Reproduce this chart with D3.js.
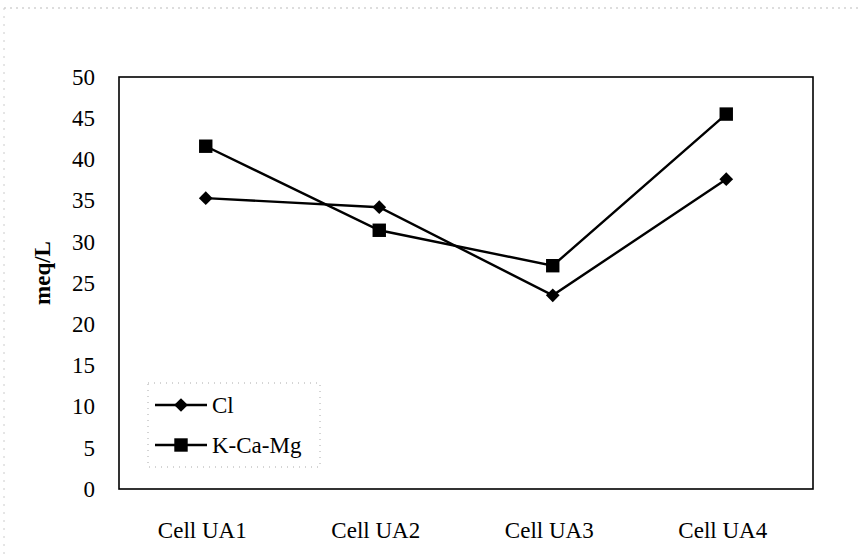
<!DOCTYPE html>
<html>
<head>
<meta charset="utf-8">
<script src="https://cdn.jsdelivr.net/npm/d3@7"></script>
<style>
  body { margin: 0; background: #fff; }
  svg { display: block; }
</style>
</head>
<body>
<div id="chart"></div>
<script>
const categories = ["Cell UA1", "Cell UA2", "Cell UA3", "Cell UA4"];
const clValues = [35.3, 34.2, 23.5, 37.6];
const kcamgValues = [41.6, 31.4, 27.1, 45.5];
const yTicks = [0, 5, 10, 15, 20, 25, 30, 35, 40, 45, 50];

const width = 858;
const height = 554;
const margin = { top: 77, right: 45, bottom: 65, left: 119 };
const innerWidth = width - margin.left - margin.right;
const innerHeight = height - margin.top - margin.bottom;
const font = "'Liberation Serif', 'Times New Roman', serif";

const svg = d3.select("#chart")
	.append("svg")
	.attr("width", width)
	.attr("height", height);

// faint scan border round the page
svg.append("line")
	.attr("x1", 4).attr("x2", width).attr("y1", 8).attr("y2", 8)
	.style("stroke", "#bbb").style("stroke-dasharray", "2,4");
svg.append("line")
	.attr("x1", 4).attr("x2", 4).attr("y1", 8).attr("y2", height)
	.style("stroke", "#ccc").style("stroke-dasharray", "2,6");

const g = svg.append("g")
	.attr("transform", `translate(${margin.left},${margin.top})`);

const xScale = d3.scalePoint()
	.domain(categories)
	.range([0, innerWidth])
	.padding(0.5);

const yScale = d3.scaleLinear([0, 50], [innerHeight, 0]);

// plot box
g.append("rect")
	.attr("width", innerWidth)
	.attr("height", innerHeight)
	.style("fill", "none")
	.style("stroke", "#000")
	.style("stroke-width", 1.6);

// y axis
const yAxis = d3.axisLeft(yScale).tickValues(yTicks).tickSize(0).tickPadding(24);
const yAxisGroup = g.append("g").call(yAxis);
yAxisGroup.select(".domain").remove();
yAxisGroup.selectAll("text")
	.style("font-family", font)
	.style("font-size", "23px")
	.style("fill", "#000");

// x axis
const xAxis = d3.axisBottom(xScale).tickSize(0).tickPadding(33);
const xAxisGroup = g.append("g").attr("transform", `translate(0,${innerHeight})`).call(xAxis);
xAxisGroup.select(".domain").remove();
xAxisGroup.selectAll("text")
	.attr("dx", "-4px")
	.style("font-family", font)
	.style("font-size", "23px")
	.style("fill", "#000");

// y label
g.append("text")
	.attr("transform", "rotate(-90)")
	.attr("x", -innerHeight / 2 + 10)
	.attr("y", -69)
	.attr("text-anchor", "middle")
	.style("font-family", font)
	.style("font-weight", "700")
	.style("font-size", "23px")
	.text("meq/L");

const line = d3.line()
	.x((d, i) => xScale(categories[i]))
	.y(d => yScale(d));

const diamond = d3.symbol().type(d3.symbolDiamond2).size(120);
const square = d3.symbol().type(d3.symbolSquare).size(180);

const series = [
	{ name: "Cl", values: clValues, symbol: diamond },
	{ name: "K-Ca-Mg", values: kcamgValues, symbol: square },
];

series.forEach(s => {
	g.append("path")
		.datum(s.values)
		.attr("d", line)
		.style("fill", "none")
		.style("stroke", "#000")
		.style("stroke-width", 2.4);

	g.selectAll(null)
		.data(s.values)
		.join("path")
		.attr("transform", (d, i) => `translate(${xScale(categories[i])},${yScale(d)})`)
		.attr("d", s.symbol)
		.style("fill", "#000");
});

// legend
const legend = svg.append("g").attr("transform", "translate(148,383)");
legend.append("rect")
	.attr("width", 172)
	.attr("height", 84)
	.style("fill", "#fff")
	.style("stroke", "#aaa")
	.style("stroke-dasharray", "1,5");

series.forEach((s, i) => {
	const y = 22 + i * 40;
	legend.append("line")
		.attr("x1", 7).attr("x2", 59)
		.attr("y1", y).attr("y2", y)
		.style("stroke", "#000")
		.style("stroke-width", 2.4);
	legend.append("path")
		.attr("transform", `translate(33,${y})`)
		.attr("d", s.symbol)
		.style("fill", "#000");
	legend.append("text")
		.attr("x", 64)
		.attr("y", y + 8)
		.style("font-family", font)
		.style("font-size", "23px")
		.text(s.name);
});
</script>
</body>
</html>
